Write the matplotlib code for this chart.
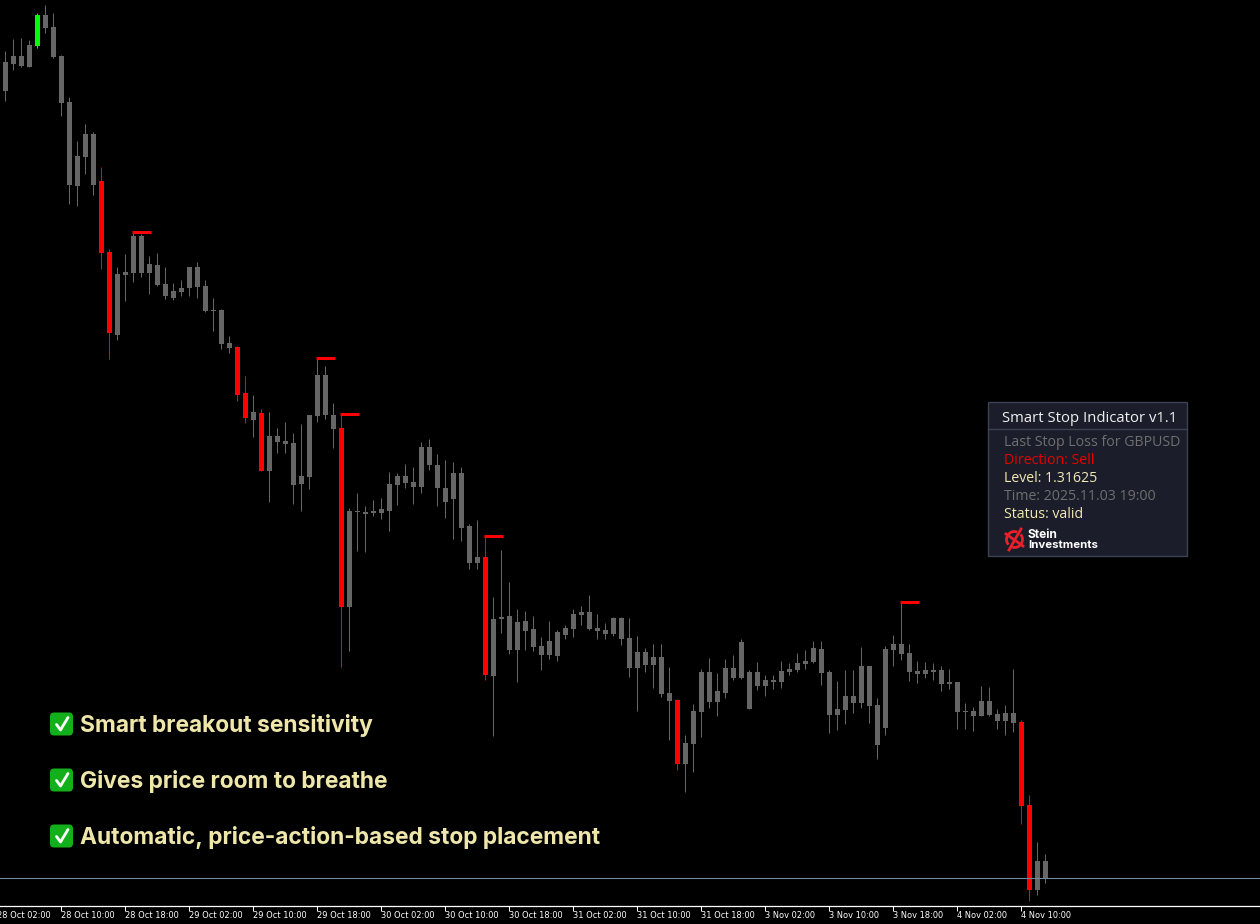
import matplotlib
matplotlib.use('Agg')
import matplotlib.pyplot as plt
from matplotlib.patches import Arc, FancyBboxPatch, Rectangle
import numpy as np

# GBPUSD H1 in points (131625 = 1.31625)
high = [133279, 133315, 133318, 133312, 133393, 133417, 133393, 133267, 133141, 133009, 133060, 133036,
        132931, 132685, 132631, 132670, 132732, 132729, 132664, 132673, 132631, 132583, 132592, 132631,
        132646, 132592, 132538, 132505, 132424, 132394, 132304, 132247, 132205, 132196, 132148, 132166,
        132133, 132160, 132187, 132357, 132334, 132223, 132187, 131908, 131953, 131914, 131932, 131938,
        132016, 132013, 132040, 132031, 132106, 132115, 132070, 132052, 132046, 132031, 131860, 131872,
        131822, 131641, 131782, 131686, 131605, 131599, 131584, 131521, 131569, 131542, 131557, 131605,
        131614, 131647, 131590, 131563, 131581, 131581, 131578, 131524, 131488, 131500, 131500, 131431,
        131335, 131227, 131320, 131425, 131458, 131413, 131455, 131467, 131515, 131422, 131446, 131407,
        131407, 131449, 131443, 131473, 131482, 131509, 131509, 131422, 131389, 131422, 131422, 131491,
        131434, 131338, 131494, 131527, 131625, 131500, 131449, 131446, 131443, 131434, 131425, 131386,
        131323, 131311, 131374, 131371, 131305, 131317, 131425, 131272, 131047, 130906, 130870]
body_top = [133246, 133264, 133264, 133297, 133387, 133387, 133351, 133264, 133126, 132964, 133030, 133030,
            132889, 132676, 132610, 132616, 132724, 132724, 132640, 132637, 132580, 132559, 132568, 132631,
            132631, 132574, 132502, 132502, 132403, 132391, 132253, 132196, 132193, 132124, 132124, 132109,
            132103, 132004, 132187, 132307, 132307, 132187, 132148, 131899, 131899, 131896, 131899, 131905,
            131980, 132004, 132004, 131986, 132091, 132091, 132037, 131968, 132013, 132013, 131854, 131761,
            131761, 131575, 131581, 131584, 131566, 131569, 131545, 131494, 131509, 131536, 131548, 131590,
            131596, 131596, 131548, 131542, 131578, 131578, 131518, 131476, 131476, 131461, 131461, 131353,
            131332, 131203, 131299, 131416, 131416, 131359, 131428, 131428, 131506, 131416, 131416, 131392,
            131392, 131419, 131425, 131443, 131449, 131488, 131485, 131416, 131305, 131344, 131344, 131434,
            131434, 131317, 131485, 131500, 131500, 131473, 131419, 131422, 131422, 131422, 131386, 131386,
            131299, 131299, 131329, 131329, 131290, 131293, 131293, 131266, 131017, 130849, 130849]
body_bot = [133159, 133240, 133234, 133231, 133294, 133348, 133261, 133123, 132877, 132874, 132961, 132877,
            132673, 132433, 132427, 132607, 132613, 132613, 132613, 132577, 132544, 132538, 132556, 132568,
            132571, 132499, 132499, 132400, 132388, 132247, 132178, 132172, 132019, 132019, 132106, 132100,
            131977, 131980, 132001, 132184, 132187, 132145, 131611, 131611, 131896, 131890, 131893, 131893,
            131899, 131977, 131983, 131971, 131971, 132037, 131968, 131926, 131935, 131848, 131743, 131743,
            131407, 131404, 131575, 131482, 131482, 131539, 131491, 131467, 131467, 131464, 131527, 131545,
            131587, 131545, 131539, 131530, 131530, 131515, 131428, 131428, 131437, 131437, 131350, 131329,
            131140, 131140, 131200, 131296, 131326, 131326, 131353, 131398, 131398, 131305, 131374, 131374,
            131386, 131386, 131416, 131422, 131440, 131446, 131413, 131287, 131287, 131302, 131323, 131323,
            131314, 131197, 131248, 131482, 131470, 131416, 131410, 131410, 131416, 131380, 131380, 131296,
            131296, 131284, 131284, 131286, 131269, 131269, 131263, 131014, 130762, 130762, 130795]
low = [133129, 133222, 133231, 133231, 133288, 133333, 133258, 133084, 132820, 132814, 132910, 132847,
       132625, 132355, 132412, 132529, 132586, 132601, 132550, 132574, 132535, 132532, 132544, 132544,
       132538, 132496, 132439, 132385, 132373, 132229, 132163, 132121, 132019, 131926, 132073, 132073,
       131920, 131899, 131965, 132166, 132175, 132088, 131431, 131479, 131779, 131776, 131884, 131875,
       131839, 131917, 131968, 131920, 131953, 132022, 131914, 131878, 131815, 131809, 131725, 131725,
       131392, 131224, 131533, 131470, 131386, 131482, 131479, 131422, 131455, 131449, 131515, 131521,
       131557, 131542, 131515, 131515, 131524, 131497, 131401, 131299, 131416, 131368, 131341, 131212,
       131122, 131056, 131116, 131221, 131308, 131284, 131338, 131392, 131395, 131305, 131362, 131344,
       131365, 131368, 131407, 131416, 131425, 131443, 131377, 131233, 131242, 131260, 131293, 131308,
       131263, 131155, 131227, 131434, 131452, 131389, 131383, 131398, 131392, 131359, 131365, 131245,
       131245, 131239, 131284, 131284, 131245, 131227, 131236, 130960, 130729, 130747, 130783]

red_bars = [12, 13, 29, 30, 32, 42, 60, 84, 127, 128]
green_bars = [4]
stop_bars = [16, 39, 42, 60, 112]
stop_levels = [132735, 132357, 132189, 131823, 131625]
bid_level = 130797

tick_bars = [-1, 7, 15, 23, 31, 39, 47, 55, 63, 71, 79, 87, 95, 103, 111, 119, 127]
tick_labels = ['28 Oct 02:00', '28 Oct 10:00', '28 Oct 18:00', '29 Oct 02:00', '29 Oct 10:00', '29 Oct 18:00',
               '30 Oct 02:00', '30 Oct 10:00', '30 Oct 18:00', '31 Oct 02:00', '31 Oct 10:00', '31 Oct 18:00',
               '3 Nov 02:00', '3 Nov 10:00', '3 Nov 18:00', '4 Nov 02:00', '4 Nov 10:00']

bullets = ['Smart breakout sensitivity', 'Gives price room to breathe',
           'Automatic, price-action-based stop placement']
panel_lines = ['Last Stop Loss for GBPUSD', 'Direction: Sell', 'Level: 1.31625',
               'Time: 2025.11.03 19:00', 'Status: valid']
panel_colors = ['#6f6f6f', '#e60000', '#f2e8b0', '#6f6f6f', '#f2e8b0']

GREY = '#666666'
# agg snaps 1px lines at exact .5 to the next pixel, this keeps them centred on the body
SNAP = 0.05

fig = plt.figure(figsize=(12.6, 9.24), dpi=100, facecolor='black')
ax = fig.add_axes([0, 18 / 924, 1, 906 / 924], facecolor='black')

x = np.arange(len(high))
colors = [GREY] * len(high)
for i in red_bars:
    colors[i] = '#ff0000'
for i in green_bars:
    colors[i] = '#00ff00'

ax.vlines(x - SNAP, np.array(low) / 1e5, np.array(high) / 1e5, colors=colors, linewidth=0.72)
ax.bar(x, (np.array(body_top) - np.array(body_bot)) / 1e5, bottom=np.array(body_bot) / 1e5,
       width=0.65, color=colors, linewidth=0)
ax.hlines(np.array(stop_levels) / 1e5, np.array(stop_bars) - 0.15, np.array(stop_bars) + 2.15,
          colors='#ff0000', linewidth=2.16)
ax.axhline(bid_level / 1e5, color='#6f8a9f', linewidth=0.8)

ax.set_xlim(-5.5 / 8, (1260 - 5.5) / 8)
ax.set_ylim(1.30714, 1.33432)
for s in ['top', 'left', 'right']:
    ax.spines[s].set_visible(False)
ax.spines['bottom'].set_color('white')
ax.spines['bottom'].set_linewidth(0.9)
ax.set_yticks([])
ax.set_xticks(np.array(tick_bars[1:]) - SNAP)
ax.set_xticklabels([])
ax.tick_params(axis='x', colors='white', length=3.6, width=0.72)

# overlay in picture pixels for the text panel and the notes
ov = fig.add_axes([0, 0, 1, 1], facecolor='none')
ov.set_xlim(0, 1260)
ov.set_ylim(924, 0)
ov.axis('off')

for b, lab in zip(tick_bars, tick_labels):
    ov.text(5.5 + 8 * b - 0.5, 916, lab, color='white', fontsize=5.95, family='DejaVu Sans',
            ha='left', va='center')

ov.add_patch(Rectangle((988, 402), 199, 154, facecolor='#1b1e2a', edgecolor='#3d4252', linewidth=1))
ov.plot([988, 1187], [429, 429], color='#3d4252', linewidth=1)
ov.text(1002, 419, 'Smart Stop Indicator v1.1', color='#f0f0f0', fontsize=10.7, family='Open Sans',
        ha='left', va='center')
for k, (line, col) in enumerate(zip(panel_lines, panel_colors)):
    ov.text(1004, 443 + 18 * k, line, color=col, fontsize=10.15, family='Open Sans', ha='left', va='center')

# Stein Investments logo
ov.add_patch(Arc((1014.5, 539.5), 16, 16, theta1=-40, theta2=110, color='#e8202a', linewidth=2))
ov.add_patch(Arc((1014.5, 539.5), 16, 16, theta1=140, theta2=290, color='#e8202a', linewidth=2))
ov.plot([1009, 1021], [550, 529], color='#e8202a', linewidth=2)
ov.plot([1006, 1023], [534, 546], color='#e8202a', linewidth=2)
ov.text(1028, 534.5, 'Stein', color='white', fontsize=8.6, family='Inter', weight='bold', ha='left', va='center')
ov.text(1028, 544.5, 'Investments', color='white', fontsize=8.25, family='Inter', weight='bold', ha='left',
        va='center')

for k, line in enumerate(bullets):
    yc = 724 + 56 * k
    ov.add_patch(FancyBboxPatch((52, yc - 9.5), 19, 19, boxstyle='round,pad=2,rounding_size=4',
                                facecolor='#13b01c', edgecolor='none'))
    ov.plot([56.5, 60.5, 68], [yc + 0.5, yc + 6, yc - 6.5], color='white', linewidth=2, solid_capstyle='round')
    ov.text(80, yc + 1.2, line, color='#efe7aa', fontsize=16.4, family='Inter', weight='bold', ha='left', va='center')

fig.savefig('out.png', dpi=100, facecolor='black')
